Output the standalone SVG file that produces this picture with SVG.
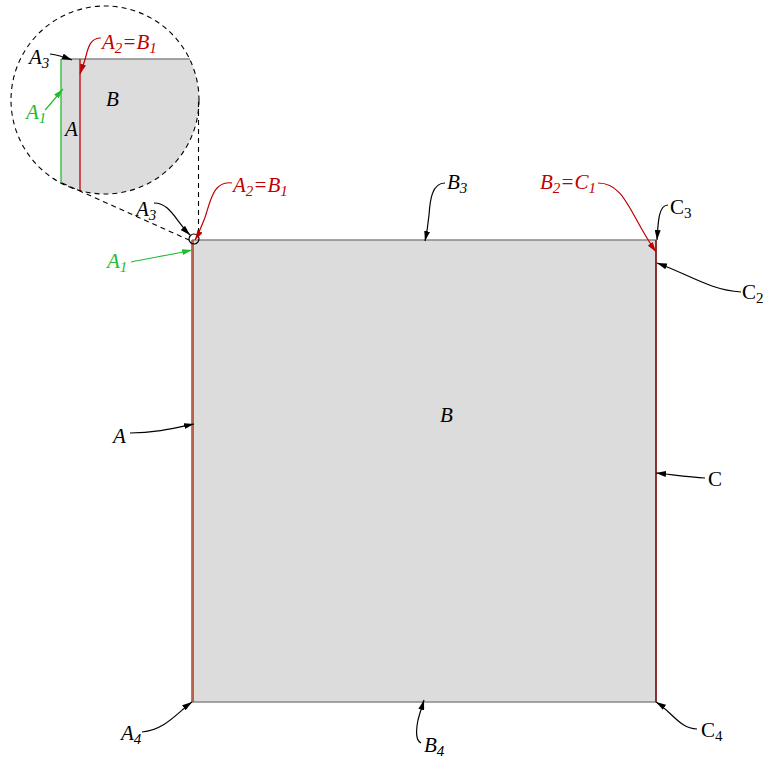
<svg xmlns="http://www.w3.org/2000/svg" width="763" height="759" viewBox="0 0 763 759">
<style>
text{font-family:"Liberation Serif","DejaVu Serif",serif;font-style:italic;font-size:21px;fill:#000}
.red{fill:#c00000}
.green{fill:#22bb33}
.c{fill:none;stroke:#000;stroke-width:1.2}
.cr{fill:none;stroke:#c00000;stroke-width:1.2}
.cg{fill:none;stroke:#22bb33;stroke-width:1.2}
.dash{fill:none;stroke:#000;stroke-width:1.1;stroke-dasharray:5 4}
.sub{font-size:15px}
</style>
<defs>
<marker id="ab" viewBox="0 0 10 6" refX="10" refY="3" markerWidth="10" markerHeight="6" markerUnits="userSpaceOnUse" orient="auto"><path d="M0,0 L10,3 L0,6 z" fill="#000"/></marker>
<marker id="ar" viewBox="0 0 10 6" refX="10" refY="3" markerWidth="10" markerHeight="6" markerUnits="userSpaceOnUse" orient="auto"><path d="M0,0 L10,3 L0,6 z" fill="#c00000"/></marker>
<marker id="ag" viewBox="0 0 10 6" refX="10" refY="3" markerWidth="10" markerHeight="6" markerUnits="userSpaceOnUse" orient="auto"><path d="M0,0 L10,3 L0,6 z" fill="#22bb33"/></marker>
<clipPath id="cc"><circle cx="105" cy="100" r="94"/></clipPath>
</defs>

<g id="main">
<rect x="192" y="240" width="464" height="462" fill="#dcdcdc"/>
<line x1="192" y1="240" x2="656" y2="240" stroke="#888" stroke-width="1.6"/>
<line x1="192" y1="702" x2="656" y2="702" stroke="#888" stroke-width="1.4"/>
<line x1="191.6" y1="240" x2="191.6" y2="702" stroke="#22bb33" stroke-width="1"/>
<line x1="193" y1="240" x2="193" y2="702" stroke="#b5402a" stroke-width="1.6"/>
<line x1="656" y1="240" x2="656" y2="702" stroke="#7a1010" stroke-width="1.7"/>
<text x="440" y="422">B</text>
</g>

<g id="inset">
<g clip-path="url(#cc)">
<rect x="61" y="59" width="200" height="200" fill="#dcdcdc"/>
</g>
<line x1="61" y1="59" x2="190" y2="59" stroke="#888" stroke-width="1.6"/>
<line x1="61" y1="59" x2="61" y2="183" stroke="#22bb33" stroke-width="1.3"/>
<line x1="80" y1="59" x2="80" y2="191" stroke="#c00000" stroke-width="1.3"/>
<circle cx="105" cy="100" r="94" class="dash"/>
<text x="106" y="106">B</text>
<text x="65" y="136">A</text>
<text x="29" y="64">A<tspan class="sub" dy="4">3</tspan></text>
<path class="c" d="M50,54 C58,55 64,57 72,60" marker-end="url(#ab)"/>
<text x="102" y="49" class="red">A<tspan class="sub" dy="4">2</tspan><tspan dy="-4">=B</tspan><tspan class="sub" dy="4">1</tspan></text>
<path class="cr" d="M101,38 C90,38 88,48 86,56 C84,64 82,68 80,74" marker-end="url(#ar)"/>
<text x="26" y="119" class="green">A<tspan class="sub" dy="4">1</tspan></text>
<path class="cg" d="M45,110 C50,105 55,98 63,89" marker-end="url(#ag)"/>
</g>

<g id="zoom-lines">
<circle cx="194" cy="239" r="5" fill="none" stroke="#000" stroke-width="1.2"/>
<line x1="62" y1="183" x2="189" y2="240" class="dash"/>
<line x1="198.5" y1="102" x2="198.5" y2="235" class="dash"/>
</g>

<g id="labels">
<text x="136" y="216">A<tspan class="sub" dy="4">3</tspan></text>
<text x="233" y="192" class="red">A<tspan class="sub" dy="4">2</tspan><tspan dy="-4">=B</tspan><tspan class="sub" dy="4">1</tspan></text>
<text x="107" y="268" class="green">A<tspan class="sub" dy="4">1</tspan></text>
<text x="447" y="189">B<tspan class="sub" dy="4">3</tspan></text>
<text x="540" y="189" class="red">B<tspan class="sub" dy="4">2</tspan><tspan dy="-4">=C</tspan><tspan class="sub" dy="4">1</tspan></text>
<text x="670" y="214" style="font-style:normal">C<tspan class="sub" dy="4">3</tspan></text>
<text x="742" y="299" style="font-style:normal">C<tspan class="sub" dy="4">2</tspan></text>
<text x="113" y="443">A</text>
<text x="708" y="486" style="font-style:normal">C</text>
<text x="121" y="740">A<tspan class="sub" dy="4">4</tspan></text>
<text x="424" y="752">B<tspan class="sub" dy="4">4</tspan></text>
<text x="701" y="737" style="font-style:normal">C<tspan class="sub" dy="4">4</tspan></text>
</g>

<g id="connectors">
<path class="c" d="M154,203 C170,203 175,220 190,235" marker-end="url(#ab)"/>
<path class="cr" d="M232,183 C212,180 210,205 204,220 C200,230 198,235 195,240" marker-end="url(#ar)"/>
<path class="cg" d="M131,262 C150,258 170,255 192,250" marker-end="url(#ag)"/>
<path class="c" d="M445,183 C432,183 430,200 429,215 C428,225 427,232 425,241" marker-end="url(#ab)"/>
<path class="cr" d="M598,183 C625,183 630,215 656,252" marker-end="url(#ar)"/>
<path class="c" d="M668,205 C658,205 658,225 657,240" marker-end="url(#ab)"/>
<path class="c" d="M741,292 C710,290 690,275 657,263" marker-end="url(#ab)"/>
<path class="c" d="M130,433 C155,433 175,428 194,424" marker-end="url(#ab)"/>
<path class="c" d="M705,478 C690,477 675,475 656,473" marker-end="url(#ab)"/>
<path class="c" d="M142,732 C165,730 178,712 192,702" marker-end="url(#ab)"/>
<path class="c" d="M421,743 C415,740 416,730 418,720 C420,712 422,707 424,700" marker-end="url(#ab)"/>
<path class="c" d="M697,729 C680,729 672,712 656,702" marker-end="url(#ab)"/>
</g>
</svg>
